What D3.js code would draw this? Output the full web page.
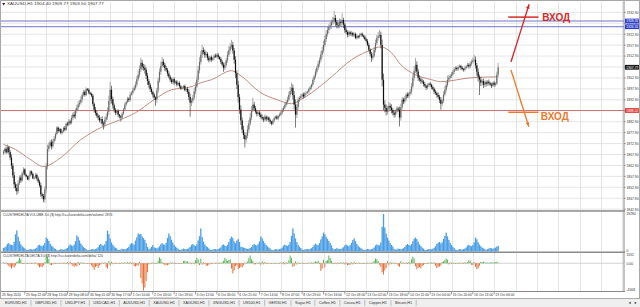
<!DOCTYPE html>
<html><head><meta charset="utf-8">
<script src="https://cdn.jsdelivr.net/npm/d3@7/dist/d3.min.js"></script>
<style>body{margin:0;background:#fff;overflow:hidden}svg{display:block;font-family:"Liberation Sans",Arial,sans-serif}</style>
</head><body><svg id="c" width="640" height="307"></svg>
<script>
// ---------------- DATA ----------------
const symbol = "XAUUSD,H1";
const firstOpen = 1868.4;
const closes = [
1869.3,1870.5,1868.9,1871.2,1869.0,1866.5,1862.8,1858.4,1854.3,1852.6,
1851.1,1854.8,1857.4,1856.0,1859.3,1861.1,1858.7,1857.9,1856.5,1858.2,
1860.2,1859.1,1857.0,1857.4,1858.6,1856.9,1855.6,1853.8,1849.7,1848.9,
1847.4,1852.0,1862.5,1870.4,1872.0,1873.5,1871.6,1874.0,1875.2,1877.3,
1880.2,1878.6,1879.5,1877.8,1878.4,1880.1,1879.2,1882.0,1881.6,1883.0,
1882.4,1884.7,1886.1,1885.3,1887.9,1889.3,1890.8,1891.6,1893.0,1895.2,
1896.6,1895.1,1897.8,1897.5,1896.2,1895.6,1894.8,1891.0,1888.4,1886.9,
1885.6,1884.8,1883.5,1884.1,1882.0,1881.6,1883.8,1885.0,1887.5,1892.4,
1897.5,1893.2,1890.4,1888.4,1887.0,1887.9,1886.1,1885.4,1884.8,1886.6,
1888.5,1890.7,1891.9,1893.4,1892.8,1895.3,1896.1,1897.2,1898.4,1899.9,
1902.3,1904.4,1907.0,1909.8,1908.1,1907.5,1906.6,1903.9,1901.5,1899.8,
1897.8,1896.4,1895.3,1894.0,1893.0,1897.2,1901.6,1905.7,1908.4,1910.3,
1908.9,1907.4,1906.6,1904.9,1903.5,1902.1,1901.0,1902.4,1900.7,1901.3,
1899.8,1900.6,1899.1,1898.0,1898.4,1899.2,1897.3,1897.9,1896.6,1894.2,
1891.6,1892.5,1893.9,1896.8,1899.0,1902.1,1906.4,1910.2,1913.5,1915.6,
1914.8,1913.3,1913.9,1912.1,1911.0,1912.4,1911.2,1912.0,1913.1,1912.6,
1913.5,1912.4,1911.6,1910.3,1909.0,1907.5,1908.8,1911.0,1913.5,1915.6,
1917.2,1918.0,1915.4,1911.2,1905.0,1899.8,1894.1,1888.4,1883.5,1879.3,
1876.8,1874.8,1876.5,1879.3,1882.1,1884.8,1888.2,1890.7,1889.0,1887.5,
1886.4,1887.1,1886.1,1885.0,1884.4,1883.9,1885.2,1884.0,1884.8,1883.6,
1882.9,1882.0,1883.4,1884.6,1885.2,1884.3,1885.5,1886.1,1887.0,1888.1,
1889.3,1890.6,1891.8,1893.0,1895.2,1896.9,1898.4,1895.0,1890.7,1886.1,
1889.6,1893.0,1893.8,1894.6,1895.3,1894.4,1895.9,1896.2,1896.6,1897.8,
1898.6,1899.8,1902.0,1903.6,1905.7,1907.5,1909.4,1911.2,1913.6,1915.5,
1918.0,1920.6,1922.9,1924.8,1926.2,1927.0,1928.5,1929.1,1930.3,1928.4,
1927.1,1926.8,1928.5,1928.0,1929.4,1927.3,1924.8,1923.9,1922.6,1923.8,
1922.9,1923.5,1922.4,1923.0,1921.2,1922.0,1921.5,1922.6,1923.1,1922.2,
1921.7,1920.6,1919.8,1918.0,1915.8,1913.9,1912.1,1913.0,1915.7,1918.8,
1921.2,1922.1,1922.6,1918.0,1902.1,1890.7,1889.2,1887.5,1888.9,1890.1,
1889.3,1888.2,1887.0,1886.1,1887.6,1888.9,1888.4,1884.8,1889.5,1893.0,
1892.1,1893.6,1895.3,1894.6,1895.8,1896.6,1899.1,1903.0,1906.2,1908.9,
1905.8,1903.0,1902.2,1901.5,1901.2,1900.1,1899.3,1898.4,1899.6,1900.3,
1899.8,1898.7,1897.9,1896.6,1896.0,1895.1,1894.3,1892.9,1891.1,1892.4,
1895.3,1897.4,1899.6,1902.1,1903.0,1903.8,1904.4,1905.6,1906.8,1907.5,
1906.9,1907.8,1908.4,1907.6,1906.9,1906.6,1907.4,1908.2,1908.9,1908.1,
1909.4,1910.3,1910.9,1911.2,1908.6,1905.7,1903.4,1902.1,1900.8,1901.5,
1899.8,1900.9,1900.2,1901.2,1900.5,1899.9,1899.4,1900.7,1899.8,1900.3,
1904.4,1907.77];
const upWick = [
0.8,0.5,1.1,1.3,0.6,0.9,1.4,1.2,1.6,1.0, 1.8,1.3,0.9,1.1,0.7,1.0,0.5,0.4,0.3,0.5,
0.6,0.4,0.7,0.5,0.8,0.6,0.9,0.7,1.2,0.8, 1.0,1.4,1.6,2.0,1.5,1.1,1.3,0.9,1.2,0.8,
0.7,0.5,0.6,0.4,0.7,0.5,0.8,0.6,0.9,1.1, 0.8,1.2,1.0,1.4,1.1,1.3,1.6,1.2,1.5,1.0,
0.9,0.6,0.8,0.5,0.7,0.4,0.6,0.9,0.7,1.2, 1.0,0.8,1.1,0.9,1.3,1.0,1.4,1.6,1.9,2.4,
3.7,1.8,1.2,0.9,0.7,0.5,0.6,0.4,0.5,0.7, 0.6,0.8,0.5,0.9,0.7,1.1,0.8,1.2,1.0,1.3,
1.5,1.8,1.6,2.3,1.4,1.2,1.5,1.1,1.3,0.9, 0.7,0.9,0.6,0.8,0.5,1.1,1.4,1.6,1.9,2.2,
1.2,0.9,1.0,0.8,1.1,0.7,0.9,0.6,0.8,0.5, 0.6,0.4,0.7,0.5,0.6,0.4,0.7,0.5,0.9,1.2,
1.5,1.1,1.3,1.6,1.8,1.4,2.0,2.2,1.7,2.4, 1.3,1.0,1.2,0.8,0.9,0.6,0.8,0.5,0.7,0.9,
0.6,0.8,0.5,0.9,0.7,1.0,1.3,1.1,1.5,1.8, 1.6,2.3,1.4,1.2,1.6,1.3,1.8,1.5,2.0,1.4,
1.7,1.2,1.5,1.9,1.6,2.1,1.8,3.2,1.3,1.0, 0.8,1.1,0.7,0.9,1.2,0.8,1.0,0.6,0.8,0.5,
0.7,0.4,0.6,0.8,0.5,0.7,0.6,0.9,0.7,1.0, 0.8,1.1,0.9,1.3,1.5,1.8,2.3,1.6,1.9,2.4,
1.4,1.1,0.8,1.0,0.7,0.9,0.6,0.8,0.5,0.7, 0.9,0.6,1.0,0.8,1.2,0.9,1.3,1.1,1.5,1.7,
1.9,1.6,1.8,1.4,1.2,1.5,1.1,1.7,3.2,1.4, 1.0,1.3,1.6,1.2,3.2,1.0,0.8,1.1,0.7,0.9,
0.6,0.8,0.5,0.7,0.6,0.9,0.5,0.7,0.4,0.6, 0.5,0.7,0.6,0.8,1.0,0.7,0.9,1.2,1.4,1.6,
1.3,1.8,2.2,1.5,2.4,2.8,1.9,1.6,1.3,1.8, 1.2,1.5,1.0,1.3,0.9,1.1,0.8,1.4,1.6,1.2,
0.9,1.1,0.8,1.0,0.7,1.2,1.5,1.8,2.1,3.2, 1.6,1.3,1.1,0.9,1.2,0.8,1.0,0.6,0.8,0.5,
0.7,0.5,0.8,0.6,0.9,0.7,1.1,0.9,1.3,1.0, 1.4,1.7,1.5,1.9,1.2,1.0,1.3,0.9,1.1,0.8,
0.6,0.9,0.7,0.5,0.8,0.6,0.9,0.7,1.0,0.8, 1.1,0.9,1.3,2.3,1.5,1.2,1.6,1.0,1.3,0.9,
1.1,0.8,0.9,0.7,1.0,0.6,0.8,0.5,0.9,0.7, 1.4,2.0];
const downWick = [
0.6,0.9,0.7,0.5,1.0,1.2,1.5,1.3,1.8,1.4, 1.6,1.1,0.8,1.0,0.6,0.9,0.5,0.4,0.3,0.6,
0.5,0.7,0.4,0.6,0.5,0.8,0.7,0.9,1.1,1.2, 1.3,1.5,1.8,1.4,1.2,1.0,1.4,0.8,1.1,0.9,
0.6,0.8,0.5,0.7,0.6,0.4,0.7,0.5,0.8,0.6, 0.9,0.7,1.1,0.9,1.2,1.0,1.3,1.1,0.9,1.2,
0.8,0.7,0.5,0.6,0.8,0.5,0.7,1.0,1.3,1.1, 0.9,1.2,1.0,1.4,1.1,2.3,1.3,1.0,1.2,1.4,
1.6,2.0,1.5,1.3,1.1,0.9,1.2,1.0,1.8,0.8, 0.7,0.5,0.8,0.6,0.9,0.7,0.5,0.8,0.6,0.9,
1.1,0.8,1.2,1.4,1.6,1.3,1.7,1.5,1.8,1.4, 1.2,1.0,1.3,1.1,2.8,1.4,1.2,1.0,1.3,0.9,
1.1,1.4,0.9,1.2,0.8,1.0,0.7,0.9,1.1,0.6, 0.8,0.5,0.7,0.6,0.4,0.7,0.5,0.8,1.0,1.4,
6.4,1.6,1.2,1.0,1.3,0.9,1.1,1.4,1.2,1.5, 1.1,1.3,0.9,1.2,1.0,0.7,0.9,0.6,0.8,0.5,
0.7,0.9,0.6,1.0,0.8,1.8,1.0,0.8,1.1,0.9, 1.2,1.0,1.4,1.8,2.2,2.0,2.4,1.9,2.1,1.6,
1.8,3.7,1.5,1.2,1.4,1.1,1.3,1.0,1.2,0.9, 1.1,0.8,1.0,0.7,0.9,1.2,0.8,1.0,0.6,0.9,
1.1,0.8,0.6,0.9,0.7,0.5,0.8,0.6,0.7,0.9, 0.8,0.6,0.9,1.0,0.8,1.1,1.3,1.9,2.2,5.9,
1.5,1.2,1.0,0.8,1.1,0.9,0.7,0.8,0.6,0.9, 0.7,1.0,0.8,1.1,0.9,1.2,1.0,1.3,1.1,1.4,
1.2,1.0,1.3,1.1,1.5,1.2,1.6,1.3,1.4,1.8, 1.5,1.2,1.0,1.4,1.1,1.6,1.3,1.0,1.2,0.9,
0.8,1.0,0.7,0.9,0.6,0.8,0.7,0.5,0.8,0.6, 0.7,0.5,0.8,0.6,0.9,1.1,1.8,1.0,0.8,1.1,
0.9,1.2,1.0,1.6,3.0,2.5,2.0,1.7,1.4,1.6, 1.3,1.5,1.2,1.4,1.0,1.3,1.1,4.1,1.4,1.0,
1.2,0.9,1.1,0.8,1.0,0.9,1.2,1.0,1.4,1.1, 1.3,1.5,1.0,1.2,0.9,1.1,0.8,1.0,0.7,0.9,
0.8,1.0,0.7,1.1,0.9,1.2,1.0,1.4,2.7,1.2, 1.0,0.8,1.1,0.9,1.2,0.8,1.0,0.7,0.9,0.6,
0.8,0.7,0.5,0.9,0.6,0.8,0.7,0.5,0.6,0.9, 0.7,1.0,0.8,0.9,1.4,1.8,2.2,7.0,1.6,1.3,
1.5,1.1,1.3,0.9,1.0,0.8,1.1,0.7,0.9,0.8, 0.6,0.9];
// moving average read at selected bars
const maBars = [0,9,20,30,43,58,66,73,88,99,113,126,141,148,156,171,178,193,205,216,223,231,246,261,272,283,291,298,306,321,328,351,371];
const maValues = [1872.5,1870.2,1865.7,1862.4,1866.5,1874.7,1877.9,1880.2,1883.9,1887.0,1893.0,1897.5,1898.9,1900.7,1902.1,1906.2,1903.9,1896.1,1893.0,1891.1,1893.0,1896.1,1903.4,1911.2,1914.8,1917.1,1914.4,1908.9,1905.3,1902.1,1901.2,1903.0,1903.4];
const volume = [
1800,2100,2600,3900,4200,3600,3300,3100,4800,8700,10700,7400,5200,3600,2700,2100,1600,900,
700,900,1300,1100,1000,1200,1500,1900,3100,3400,2900,2600,3200,4300,7100,6400,5300,3900,3000,2400,1700,1300,700,
600,800,1200,1000,900,1100,1400,1800,2900,3600,3100,2700,3500,5200,8100,7300,5600,4100,3100,2200,1800,1200,600,
700,900,1100,1300,1000,1200,1600,2200,3300,3800,3200,2900,3700,5400,10600,8800,6500,4600,3400,2500,1900,1500,800,
800,1000,1400,1200,1100,1300,1800,2400,3600,4300,3900,3500,5600,7200,9100,8600,8900,7600,6800,5900,4200,2300,1100,
1500,2400,3200,2100,1800,1600,2000,2600,3700,4200,3600,3300,4400,6800,9100,7800,6000,4500,3300,2500,1900,1400,800,
900,1100,1500,1300,1100,1300,1700,2300,3400,3800,3200,2800,3600,5600,7800,11700,7300,5000,3600,2800,2200,1600,900,
800,1000,1300,1200,1000,1200,1600,2100,3200,3600,3000,2700,3400,4800,6500,7600,6900,5100,4200,5600,6300,4800,2400,
2200,2000,1800,1500,1300,1400,1800,2300,3300,3900,3300,3000,3800,5100,7600,6700,5400,4200,3300,2600,2000,1500,800,
700,900,1200,1100,1000,1200,1500,2000,3000,3500,3100,2800,3500,4900,7900,11700,9200,6600,4700,3300,2400,1800,1000,
800,1000,1300,1200,1100,1300,1700,2300,3400,3900,3400,3200,4300,6100,7600,9600,8800,7500,6400,5400,4300,3100,1600,
1100,1300,1700,1400,1200,1300,1600,2200,3100,3500,3000,2600,3200,4400,5800,6600,5200,3800,2900,2200,1700,1300,700,
800,1000,1300,1200,1000,1200,1500,2000,3100,3600,3300,3100,4600,12500,19000,12200,9100,7000,5600,4200,3300,2500,1300,
900,1100,1500,1300,1100,1300,1700,2300,3300,3800,3300,3000,3700,5200,6500,7100,6300,4900,3600,2700,2000,1500,800,
800,1000,1300,1200,1100,1400,1900,2600,3800,4400,4900,4100,4600,6400,7900,9600,7700,5900,4400,3300,2400,1700,900,
800,900,1200,1100,1000,1200,1500,2000,3000,3400,2900,2700,3300,4600,7100,6200,4700,3500,2600,2000,1600,1200,700,
1200,1500,1800,1600,1400,1600,2000,2500,2874];
const delta = [
120,-80,150,-200,-450,-620,-870,-540,-700,-380,260,410,880,640,-150,-90,60,-40,
40,-60,90,-120,70,-150,110,-80,-420,-700,-560,-610,-330,180,1500,1100,720,-250,-310,-180,90,-120,50,
-30,60,-90,110,-60,80,-140,190,-220,260,-180,-450,-600,-380,-520,240,-310,150,-120,90,-80,60,-40,
50,-120,-380,-700,-1100,-620,-450,-800,-330,-210,120,-90,180,-650,-900,420,-380,260,-150,90,-110,70,-30,
60,-40,110,-90,140,-70,180,-120,210,-160,90,-480,-520,-350,-420,250,-2500,-3400,-4568,-4100,-3000,-1500,-200,
80,-60,130,-90,70,-110,420,1000,760,180,-140,-300,-260,-340,-220,150,-90,120,-70,60,-50,40,-30,
50,-40,380,420,260,310,-90,120,-150,90,-180,520,900,640,-320,780,-250,160,-120,-380,-420,-260,-90,
40,-70,90,-60,120,-100,80,-130,160,420,900,650,380,540,720,-900,-1700,-1200,-500,-300,-1000,-800,-600,
-700,-350,120,-80,260,900,1300,640,420,-220,-160,110,-90,150,-260,320,-180,210,-130,90,-70,60,-40,
50,-40,80,-110,90,-70,130,-150,180,-200,160,-120,480,1300,900,-600,-450,320,-210,150,-90,70,-50,
60,-50,90,-70,110,-90,140,-120,180,320,260,410,-150,-1300,-900,600,-700,380,520,1300,900,420,-150,
-120,90,-150,120,-80,160,-110,130,-200,180,-320,-280,-240,150,-190,210,-130,90,-110,70,-60,50,-40,
40,-60,80,-70,110,-90,160,420,800,650,380,-250,-600,-1500,-1900,-1200,-800,350,-260,180,-150,90,-60,
70,-90,-420,-600,380,-150,120,-90,160,-130,210,-180,650,1100,820,-500,-1000,-760,-620,-840,-450,-300,-120,
50,-40,90,-110,130,-90,160,-420,-800,-650,-520,-380,210,340,520,800,610,-180,150,-120,90,-70,40,
60,-50,110,-80,130,-100,150,-120,180,500,420,-260,-310,200,-600,-1000,-850,-400,230,180,260,150,90,
110,80,150,120,90,200,160,240,120];
const timeLabels = ["25 Sep 2020","25 Sep 22:00","28 Sep 15:00","29 Sep 08:00","30 Sep 01:00","30 Sep 17:00","1 Oct 10:00","2 Oct 03:00","2 Oct 19:00","5 Oct 12:00","6 Oct 05:00","6 Oct 21:00","7 Oct 14:00","8 Oct 07:00","8 Oct 23:00","9 Oct 16:00","12 Oct 09:00","13 Oct 02:00","13 Oct 18:00","14 Oct 11:00","15 Oct 04:00","15 Oct 20:00","16 Oct 13:00","19 Oct 06:00"];
const barsPerLabel = 16;
const priceTicks = [1932.90,1927.90,1922.90,1917.90,1912.90,1907.90,1902.90,1897.90,1892.90,1887.90,1882.90,1877.90,1872.90,1867.90,1862.90,1857.90,1852.90,1847.90,1842.90];
const blueLevels = [1928.92,1926.31];
const redLevel = 1888.02;
const volTicks = ["19280","0"];
const volMax = 19280;
const deltaMax = 1551, deltaMin = -4568;
const tabs = ["EURUSD,H1","GBPUSD,H1","USDJPY,H1","USDCAD,H1","AUDUSD,H1","XAUUSD,H1","XAGUSD,H1","XNGUSD,H1","US500,H1","GER30,H1","Sugar,H1","Coffee,H1","Cocoa,H1","Copper,H1","Bitcoin,H1"];
const activeTab = "XAUUSD,H1";
// annotation arrows in (bar, price)
const upArrow = {from:[380.6,1910.2], to:[394.2,1936.6], tick:[378.6,401.2,1930.7], label:"ВХОД", at:[404,1929.0]};
const downArrow = {from:[380.6,1906.5], to:[394.0,1880.6], tick:[378.6,401.2,1887.2], label:"ВХОД", at:[403,1883.6]};

// ---------------- LAYOUT ----------------
const svg = d3.select("#c");
const axisX = 624;
const main = {t:2, b:210}, vp = {t:212, b:251.5}, dp = {t:253, b:291};
const N = closes.length;
const x = d3.scaleLinear().domain([0, 1]).range([3.5, 3.5 + 4/3]);
const y = d3.scaleLinear().domain([1842.54, 1937.61]).range([main.b, main.t]);
const yv = d3.scaleLinear().domain([0, volMax]).range([vp.b, vp.t + 1.5]);
const yd = d3.scaleLinear().domain([deltaMin, deltaMax]).range([dp.b - 0.5, dp.t + 1]);
const bw = x(1) - x(0);
const FS = 3.8, SC = 0.5, SCX = 0.44; // small text drawn at 2x and scaled down (slightly condensed)

const opens = closes.map((c,i)=> i===0 ? firstOpen : closes[i-1]);
const bars = closes.map((c,i)=>({i, o:opens[i], c, h:Math.max(opens[i],c)+(upWick[i]||0.5), l:Math.min(opens[i],c)-(downWick[i]||0.5)}));

function small(px, py, str, fill, sx){
  const s = sx || SCX;
  return svg.append("text").attr("transform",`translate(${px},${py}) scale(${s},${SC})`)
    .attr("font-size",FS/SC).attr("fill",fill||"#333").text(str);
}

svg.append("rect").attr("width",640).attr("height",307).attr("fill","#fff");

// grid
const g = svg.append("g");
const nGrid = Math.floor(x.invert(axisX)/barsPerLabel);
for (let k=1;k<=nGrid;k++){
  const gx = Math.round(x(k*barsPerLabel))+0.5;
  [[main.t,main.b],[vp.t,vp.b],[dp.t,dp.b]].forEach(([a,b])=>
    g.append("line").attr("x1",gx).attr("x2",gx).attr("y1",a).attr("y2",b).attr("stroke","#dedede").attr("stroke-width",0.8));
}
priceTicks.forEach(p=>{
  const gy = y(p);
  g.append("line").attr("x1",1).attr("x2",axisX).attr("y1",gy).attr("y2",gy).attr("stroke","#dedede").attr("stroke-width",0.8);
});
g.append("line").attr("x1",1).attr("x2",axisX).attr("y1",yd(0)).attr("y2",yd(0)).attr("stroke","#c8c8c8").attr("stroke-width",0.8);

// levels
blueLevels.forEach(p=> svg.append("line").attr("x1",1).attr("x2",axisX).attr("y1",y(p)).attr("y2",y(p)).attr("stroke","#7373c8").attr("stroke-width",1));
svg.append("line").attr("x1",1).attr("x2",axisX).attr("y1",y(redLevel)).attr("y2",y(redLevel)).attr("stroke","#cc7474").attr("stroke-width",1);

// MA
svg.append("path").datum(maBars.map((b,k)=>[b,maValues[k]]))
  .attr("d", d3.line().x(d=>x(d[0])).y(d=>y(d[1])).curve(d3.curveMonotoneX))
  .attr("fill","none").attr("stroke","#b88078").attr("stroke-width",0.9);

// candles
const cg = svg.append("g");
bars.forEach(d=>{
  const up = d.c >= d.o;
  const col = up ? "#6a6a6a" : "#111";
  cg.append("line").attr("x1",x(d.i)).attr("x2",x(d.i)).attr("y1",y(d.h)).attr("y2",y(d.l)).attr("stroke",up?"#888":"#444").attr("stroke-width",0.7);
  const top = y(Math.max(d.o,d.c)), bot = y(Math.min(d.o,d.c));
  cg.append("rect").attr("x",x(d.i)-0.6).attr("width",1.2).attr("y",top).attr("height",Math.max(0.6,bot-top)).attr("fill",col);
});

// volume
svg.append("g").selectAll("rect").data(volume).join("rect")
  .attr("x",(v,i)=>x(i)-bw/2).attr("width",bw).attr("y",v=>yv(v)).attr("height",v=>yv(0)-yv(v)).attr("fill","#4a9ee6");
// delta
svg.append("g").selectAll("rect").data(delta).join("rect")
  .attr("x",(v,i)=>x(i)-0.5).attr("width",1.0)
  .attr("y",v=>v>=0?yd(v):yd(0)).attr("height",v=>Math.max(0.6,Math.abs(yd(v)-yd(0))))
  .attr("fill",v=>v>=0?"#5cb85c":"#e8703a");

// pane separators and frame
const sep = (yy,w)=> svg.append("line").attr("x1",0).attr("x2",axisX+1).attr("y1",yy).attr("y2",yy).attr("stroke","#8a8a8a").attr("stroke-width",w);
sep(main.b+1,1.6); sep(vp.b+0.8,1.6); sep(dp.b+0.5,1.2);
svg.append("line").attr("x1",axisX).attr("x2",axisX).attr("y1",1).attr("y2",dp.b+1).attr("stroke","#8a8a8a").attr("stroke-width",1);
svg.append("rect").attr("x",0.5).attr("y",0.5).attr("width",639).attr("height",298).attr("fill","none").attr("stroke","#a8a8a8").attr("stroke-width",1);

// price axis labels
priceTicks.forEach(p=>{
  small(axisX+2.5, y(p)+1.4, p.toFixed(2));
  svg.append("line").attr("x1",axisX).attr("x2",axisX+1.8).attr("y1",y(p)).attr("y2",y(p)).attr("stroke","#666").attr("stroke-width",0.6);
});
function tag(price, fill){
  const yy = y(price);
  svg.append("rect").attr("x",axisX+1).attr("y",yy-2.4).attr("width",14).attr("height",4.8).attr("fill",fill);
  small(axisX+2.3, yy+1.3, price.toFixed(2), "#fff");
}
blueLevels.forEach(p=>tag(p,"#2e3fd0"));
tag(closes[N-1],"#1a1a1a");
tag(redLevel,"#e03a3a");

// volume/delta axis labels
small(axisX+2.5, yv(volMax)+1.5, volTicks[0]);
small(axisX+2.5, yv(0)+0.5, volTicks[1]);
small(axisX+2.5, yd(deltaMax)+2, String(deltaMax));
small(axisX+2.5, yd(0)+1.4, "0.00");
small(axisX+2.5, yd(deltaMin)+0.5, String(deltaMin));

// pane titles
const last = bars[N-1];
small(7, 5.4, `${symbol}  ${last.o.toFixed(2)} ${last.h.toFixed(2)} ${last.l.toFixed(2)} ${last.c.toFixed(2)}`, "#333", 0.6);
svg.append("path").attr("d","M2.2,3 L5.2,3 L3.7,5.6 Z").attr("fill","#222");
small(3, vp.t+4.3, `CLUSTERDELTA VOLUME 3.0 ($) http://ru.clusterdelta.com/volume/ ${volume[N-1]}`);
small(3, dp.t+4.3, `CLUSTERDELTA DELTA 3.0 ($) http://ru.clusterdelta.com/delta/ ${delta[N-1]}`);

// time labels
timeLabels.forEach((t,k)=>{
  const lx = k===0 ? 2 : x(k*barsPerLabel)+1.2;
  small(lx, 296.4, t);
  if(k>0) svg.append("line").attr("x1",x(k*barsPerLabel)).attr("x2",x(k*barsPerLabel)).attr("y1",dp.b+1).attr("y2",dp.b+3.5).attr("stroke","#666").attr("stroke-width",0.6);
});

// tab bar
svg.append("rect").attr("x",0).attr("y",298.5).attr("width",640).attr("height",8.5).attr("fill","#efefef");
svg.append("line").attr("x1",0).attr("x2",640).attr("y1",298.5).attr("y2",298.5).attr("stroke","#a0a0a0").attr("stroke-width",0.8);
let tabX = 1;
tabs.forEach(t=>{
  const tt = small(0, 304.2, t, "#333", 0.5);
  const w = tt.node().getComputedTextLength()*0.5;
  const tw = w + 8;
  if (t===activeTab){
    svg.insert("rect","text").attr("x",tabX).attr("y",298).attr("width",tw).attr("height",8.5).attr("fill","#fff").attr("stroke","#8a8a8a").attr("stroke-width",0.6);
  }
  tt.attr("transform",`translate(${tabX+4},304.2) scale(0.5,${SC})`);
  svg.append("line").attr("x1",tabX+tw).attr("x2",tabX+tw).attr("y1",300).attr("y2",306).attr("stroke","#9a9a9a").attr("stroke-width",0.6);
  tabX += tw;
});
small(628, 304.2, "◄");
small(634, 304.2, "►");

// annotations
function arrow(a, color){
  const x1=x(a.from[0]), y1=y(a.from[1]), x2=x(a.to[0]), y2=y(a.to[1]);
  svg.append("line").attr("x1",x1).attr("y1",y1).attr("x2",x2).attr("y2",y2).attr("stroke",color).attr("stroke-width",1.3);
  const ang = Math.atan2(y2-y1,x2-x1), L=4.5, Wd=1.8;
  const bx = x2 - L*Math.cos(ang), by = y2 - L*Math.sin(ang);
  const px = -Math.sin(ang)*Wd, py = Math.cos(ang)*Wd;
  svg.append("path").attr("d",`M${x2},${y2}L${bx+px},${by+py}L${bx-px},${by-py}Z`).attr("fill",color);
  svg.append("line").attr("x1",x(a.tick[0])).attr("x2",x(a.tick[1])).attr("y1",y(a.tick[2])).attr("y2",y(a.tick[2])).attr("stroke",color).attr("stroke-width",1.5);
  svg.append("text").attr("x",x(a.at[0])).attr("y",y(a.at[1])).attr("font-size",10).attr("font-weight","bold").attr("fill",color).text(a.label);
}
arrow(upArrow,"#d22a2a");
arrow(downArrow,"#ea7a2e");
</script></body></html>
